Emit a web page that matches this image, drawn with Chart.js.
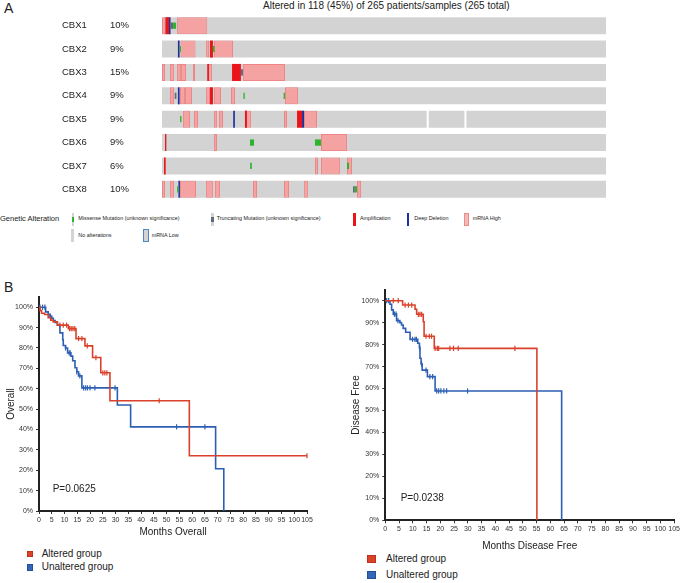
<!DOCTYPE html>
<html>
<head>
<meta charset="utf-8">
<script src="https://cdn.jsdelivr.net/npm/chart.js"></script>
<style>
  body { margin: 0; width: 682px; height: 583px; position: relative; overflow: hidden; background: #fff;
         font-family: "Liberation Sans", Arial, sans-serif; color: #222; }
  .t { position: absolute; white-space: nowrap; line-height: 1; transform: translateY(-50%); }
  .box { position: absolute; }
  .sw { position: absolute; box-sizing: border-box; }
</style>
</head>
<body>

<div class="t" style="left:4px;top:8px;font-size:14px">A</div>
<div class="t" style="left:263px;top:6px;font-size:10px">Altered in 118 (45%) of 265 patients/samples (265 total)</div>

<div class="box" style="left:62px;top:14px;width:546px;height:187px"><canvas id="onco"></canvas></div>

<!-- oncoprint legend -->
<div class="t" style="left:0px;top:219px;font-size:7.5px">Genetic Alteration</div>
<div class="sw" style="left:71.5px;top:212.5px;width:2.6px;height:13px;background:#d3d3d3"></div>
<div class="sw" style="left:71.5px;top:216.5px;width:2.6px;height:5px;background:#2cb52c"></div>
<div class="t" style="left:78.3px;top:219px;font-size:5.4px">Missense Mutation (unknown significance)</div>
<div class="sw" style="left:211px;top:212.5px;width:2.6px;height:13px;background:#d3d3d3"></div>
<div class="sw" style="left:211px;top:216.5px;width:2.6px;height:5px;background:#5a6b7d"></div>
<div class="t" style="left:216.7px;top:219px;font-size:5.4px">Truncating Mutation (unknown significance)</div>
<div class="sw" style="left:353.3px;top:212.5px;width:2.8px;height:13px;background:#e8161b"></div>
<div class="t" style="left:360px;top:219px;font-size:5.4px">Amplification</div>
<div class="sw" style="left:406.7px;top:212.5px;width:2.8px;height:13px;background:#1f2f9c"></div>
<div class="t" style="left:414.3px;top:219px;font-size:5.4px">Deep Deletion</div>
<div class="sw" style="left:464.3px;top:212.5px;width:4.4px;height:13px;background:#f3b9b9;border:1px solid #ee8a8a"></div>
<div class="t" style="left:472.7px;top:219px;font-size:5.4px">mRNA High</div>
<div class="sw" style="left:71px;top:228.5px;width:2.7px;height:13px;background:#d3d3d3"></div>
<div class="t" style="left:78.3px;top:235.5px;font-size:5.4px">No alterations</div>
<div class="sw" style="left:143.3px;top:228.5px;width:5.4px;height:13px;background:#d3d3d3;border:1px solid #4f86c6"></div>
<div class="t" style="left:151.7px;top:235.5px;font-size:5.4px">mRNA Low</div>

<div class="t" style="left:4px;top:287px;font-size:14px">B</div>

<div class="box" style="left:0px;top:285px;width:322px;height:254px"><canvas id="os"></canvas></div>
<div class="box" style="left:340px;top:278px;width:342px;height:275px"><canvas id="dfs"></canvas></div>

<div class="t" style="left:52.7px;top:489px;font-size:10px">P=0.0625</div>
<div class="t" style="left:400.7px;top:498px;font-size:10px">P=0.0238</div>

<div class="sw" style="left:26.7px;top:550.7px;width:6.6px;height:6.6px;background:#da4327;border:1px solid #b8321c"></div>
<div class="t" style="left:41.7px;top:554px;font-size:10px">Altered group</div>
<div class="sw" style="left:26.7px;top:564px;width:6.6px;height:6.6px;background:#3466b8;border:1px solid #234e98"></div>
<div class="t" style="left:41.7px;top:567.3px;font-size:10px">Unaltered group</div>

<div class="sw" style="left:367.3px;top:554.7px;width:8.7px;height:8.7px;background:#da4327;border:1px solid #b8321c"></div>
<div class="t" style="left:386px;top:559px;font-size:10px">Altered group</div>
<div class="sw" style="left:367.3px;top:570.7px;width:8.7px;height:8.7px;background:#3466b8;border:1px solid #234e98"></div>
<div class="t" style="left:386px;top:575px;font-size:10px">Unaltered group</div>

<script>
// ---- oncoprint data (sample index ranges, 265 samples) ----
const genes = ['CBX1', 'CBX2', 'CBX3', 'CBX4', 'CBX5', 'CBX6', 'CBX7', 'CBX8'];
const alteredPct = ['10%', '9%', '15%', '9%', '9%', '9%', '6%', '10%'];
const totalSamples = 265;
const notProfiled = [['CBX5', 158, 159.2], ['CBX5', 180.5, 181.7]];

const mrnaHigh = [
  ['CBX1', 0, 2], ['CBX1', 9, 27],
  ['CBX2', 11, 20], ['CBX2', 26.3, 28.1], ['CBX2', 31, 42.4],
  ['CBX3', 0, 1.8], ['CBX3', 4.8, 7.2], ['CBX3', 9, 11.3], ['CBX3', 11.3, 14.3], ['CBX3', 18.5, 19.7],
  ['CBX3', 27.5, 29.8], ['CBX3', 48.3, 73.4],
  ['CBX4', 4.8, 7.2], ['CBX4', 10.7, 13.7], ['CBX4', 13.7, 17.9], ['CBX4', 26.3, 28.6], ['CBX4', 31, 35.2],
  ['CBX4', 41.2, 43.6], ['CBX4', 73.4, 81.2],
  ['CBX5', 12.5, 16.7], ['CBX5', 19.1, 21.5], ['CBX5', 31, 32.8], ['CBX5', 34, 36.4], ['CBX5', 49.5, 53.1],
  ['CBX5', 72.8, 74.6], ['CBX5', 84.8, 92.5],
  ['CBX6', 31, 32.8], ['CBX6', 94.9, 110.4],
  ['CBX7', 91.3, 93.1], ['CBX7', 94.9, 106.2], ['CBX7', 110.4, 113.4],
  ['CBX8', 0, 1.8], ['CBX8', 4.8, 7.2], ['CBX8', 10.7, 20.3], ['CBX8', 26.3, 30.4], ['CBX8', 31.6, 34.6],
  ['CBX8', 54.3, 56.7], ['CBX8', 72.8, 75.8], ['CBX8', 84.8, 87.1], ['CBX8', 116.4, 118.8]
];
const amplification = [
  ['CBX1', 2, 4.2], ['CBX2', 28.6, 30.4], ['CBX3', 27, 28], ['CBX3', 41.8, 47.1], ['CBX4', 28.6, 30.4],
  ['CBX5', 49.5, 50.7], ['CBX5', 80.6, 83.6], ['CBX6', 1.8, 2.6], ['CBX7', 1.2, 2.2]
];
const deepDeletion = [
  ['CBX1', 4.2, 5.1], ['CBX2', 9.5, 10.5], ['CBX4', 9.5, 10.5], ['CBX5', 42.5, 43.5],
  ['CBX5', 83.6, 84.8], ['CBX8', 9.8, 10.7]
];
const missense = [
  ['CBX1', 6.6, 8.4], ['CBX2', 10.5, 11.3], ['CBX2', 30.4, 31.4], ['CBX4', 48.6, 49.4], ['CBX4', 72.6, 73.4],
  ['CBX5', 10.8, 11.6], ['CBX6', 52.5, 54.9], ['CBX6', 91.3, 94.9], ['CBX7', 52.6, 53.6],
  ['CBX7', 110.4, 111.6], ['CBX8', 9, 9.8], ['CBX8', 115, 116.4]
];
const truncating = [
  ['CBX1', 5.1, 6.6], ['CBX3', 47.1, 48.3], ['CBX4', 7.6, 8.6], ['CBX8', 114, 115]
];

// ---- survival data (months, % surviving) ----
const osAlteredMonths = [0, 0.4, 1, 2.2, 3.6, 4.6, 5.6, 7.2, 11.5, 14.5, 18, 21, 24.2, 27.8, 58.9, 105];
const osAlteredSurv   = [100, 98.3, 97, 96.4, 94.8, 93.6, 92.8, 91.2, 89.5, 84.6, 81, 75.3, 67.8, 54.1, 27.1, 27.1];
const osAlteredCensored = [8.2, 9.5, 10.8, 12, 12.6, 13.3, 14, 15.5, 16.8, 18.9, 22.3, 25, 25.8, 26.6, 47.1, 105];
const osUnalteredMonths = [0, 2.6, 3.6, 4.3, 5, 5.6, 6.3, 7.2, 8.2, 9.3, 9.5, 10.4, 11.2, 12.5, 13.2, 14.1,
                           14.8, 15.5, 16.8, 30.7, 35.9, 69.2, 72.4];
const osUnalteredSurv   = [100, 97.7, 96.5, 95.5, 94.5, 93.5, 92.5, 91.2, 87.4, 84, 81.2, 80, 77.6, 76, 73.7, 70.3,
                           68.3, 66.3, 60.4, 52, 41.3, 20.7, 0];
const osUnalteredCensored = [0.4, 1.4, 2.3, 4.5, 10.4, 11.8, 12.2, 14.8, 16, 17.5, 18.3, 19, 20, 21.9, 29.8, 53.9, 65];

const dfsAlteredMonths = [0, 6.3, 10.8, 11.4, 13.8, 14.1, 17.8, 55.1];
const dfsAlteredSurv   = [100, 98, 96.1, 93.8, 90.4, 83.8, 78.3, 0];
const dfsAlteredCensored = [2.9, 4.7, 7.2, 8.4, 9.6, 12, 12.6, 13.2, 14.8, 16, 16.8, 18.1, 18.9, 19.4,
                            23.5, 24.8, 26.5, 47.1];
const dfsUnalteredMonths = [0, 1.7, 2.3, 2.9, 4.1, 5.3, 5.9, 6.5, 7.4, 9, 11.8, 12.4, 12.6, 13, 13.4, 15.3, 18.1, 64.1];
const dfsUnalteredSurv   = [100, 98.4, 95.8, 93.9, 90.9, 90, 88.9, 87.4, 85.6, 82.4, 80.6, 78.6, 73.8, 71.2,
                            68.4, 65.4, 58.9, 0];
const dfsUnalteredCensored = [0.5, 1.2, 3.3, 3.9, 4.6, 9.9, 10.8, 11.3, 12.5, 13.2, 14.8, 16.2, 17.2, 18.7,
                              19.4, 20.2, 21.3, 22.3, 29.9];

const FONT = '"Liberation Sans", Arial, sans-serif';
Chart.defaults.font.family = FONT;
Chart.defaults.color = '#222';
const RED = '#d9412b';
const BLUE = '#2c5fb3';

// ---------- oncoprint ----------
function toBars(list) {
  return list.map(([g, s, e]) => ({ y: g, x: [s, e] }));
}

// gray "no alteration" strips, split where samples were not profiled
const background = [];
genes.forEach(g => {
  let start = 0;
  notProfiled.filter(p => p[0] === g).forEach(p => {
    background.push([g, start, p[1]]);
    start = p[2];
  });
  background.push([g, start, totalSamples]);
});

const full = { grouped: false, categoryPercentage: 1, barPercentage: 0.73, yAxisID: 'y', borderSkipped: false };
const small = { grouped: false, categoryPercentage: 1, barPercentage: 0.27, yAxisID: 'y', borderSkipped: false };

new Chart(document.getElementById('onco'), {
  type: 'bar',
  data: {
    datasets: [
      { ...full, label: 'No alterations', data: toBars(background), backgroundColor: '#d3d3d3', order: 6 },
      { ...full, label: 'mRNA High', data: toBars(mrnaHigh), backgroundColor: '#f4a2a2',
        borderColor: '#ef8585', borderWidth: 1, order: 5 },
      { ...full, label: 'Amplification', data: toBars(amplification), backgroundColor: '#e8161b', order: 4 },
      { ...full, label: 'Deep Deletion', data: toBars(deepDeletion), backgroundColor: '#1f2f9c', order: 3 },
      { ...small, label: 'Missense', data: toBars(missense), backgroundColor: '#2cb52c', order: 2 },
      { ...small, label: 'Truncating', data: toBars(truncating), backgroundColor: '#5a6b7d', order: 1 }
    ]
  },
  options: {
    indexAxis: 'y',
    responsive: true,
    maintainAspectRatio: false,
    animation: false,
    layout: { padding: { left: 0, right: 2, top: 0, bottom: 0 } },
    plugins: { legend: { display: false }, tooltip: { enabled: false } },
    scales: {
      x: { display: false, min: 0, max: totalSamples },
      y: {
        type: 'category', labels: genes, offset: true, position: 'left', weight: 1,
        grid: { display: false }, border: { display: false },
        ticks: { crossAlign: 'far', padding: 0, font: { size: 9.5 }, color: '#222' },
        afterFit: s => { s.width = 48; s.paddingTop = 0; s.paddingBottom = 0; }
      },
      yPct: {
        type: 'category', labels: alteredPct, offset: true, position: 'left', weight: 0,
        grid: { display: false }, border: { display: false },
        ticks: { crossAlign: 'far', padding: 0, font: { size: 9.5 }, color: '#222' },
        afterFit: s => { s.width = 52; s.paddingTop = 0; s.paddingBottom = 0; }
      }
    }
  }
});

// ---------- Kaplan-Meier curves ----------
function survAt(months, surv, t) {
  let v = surv[0];
  for (let i = 0; i < months.length; i++) if (months[i] <= t) v = surv[i];
  return v;
}

function curve(months, surv, color) {
  return {
    data: months.map((m, i) => ({ x: m, y: surv[i] })),
    showLine: true, stepped: true, borderColor: color, borderWidth: 1.6,
    pointRadius: 0, fill: false, clip: 2
  };
}

function censor(times, months, surv, color) {
  return {
    data: times.map(t => ({ x: t, y: survAt(months, surv, t) })),
    showLine: false, pointStyle: 'line', rotation: 90, pointRadius: 2.6,
    borderColor: color, borderWidth: 1.2, clip: false
  };
}

function makeKm(id, c) {
  const tickFont = { size: 7 };
  return new Chart(document.getElementById(id), {
    type: 'scatter',
    data: {
      datasets: [
        curve(c.altMonths, c.altSurv, RED),
        curve(c.unMonths, c.unSurv, BLUE),
        censor(c.altCens, c.altMonths, c.altSurv, RED),
        censor(c.unCens, c.unMonths, c.unSurv, BLUE)
      ]
    },
    options: {
      responsive: true,
      maintainAspectRatio: false,
      animation: false,
      layout: { padding: c.padding },
      plugins: { legend: { display: false }, tooltip: { enabled: false } },
      scales: {
        x: {
          type: 'linear', min: 0, max: 105,
          ticks: { stepSize: 5, autoSkip: false, maxRotation: 0, padding: 2, font: tickFont, color: '#333' },
          grid: { drawOnChartArea: false, tickLength: 3, color: '#333' },
          border: { color: '#222', width: 2 },
          title: { display: true, text: c.xTitle, font: { size: 10 }, color: '#222', padding: { top: 0, bottom: 1 } },
          afterFit: s => { s.height = c.xAxisH; }
        },
        y: {
          type: 'linear', min: 0, max: 105,
          afterBuildTicks: s => { s.ticks = s.ticks.filter(t => t.value <= 100); },
          ticks: { stepSize: 10, padding: 3, font: tickFont, color: '#333', callback: v => v + '%' },
          grid: { drawOnChartArea: false, tickLength: 3, color: '#333' },
          border: { color: '#222', width: 2 },
          title: { display: true, text: c.yTitle, font: { size: 10 }, color: '#222', padding: { top: c.yTitlePad, bottom: 0 } },
          afterFit: s => { s.width = c.yAxisW; s.paddingTop = 0; s.paddingBottom = 0; }
        }
      }
    }
  });
}

makeKm('os', {
  altMonths: osAlteredMonths, altSurv: osAlteredSurv, altCens: osAlteredCensored,
  unMonths: osUnalteredMonths, unSurv: osUnalteredSurv, unCens: osUnalteredCensored,
  xTitle: 'Months Overall', yTitle: 'Overall',
  padding: { left: 0, top: 12, right: 15, bottom: 0 }, yAxisW: 39, xAxisH: 28, yTitlePad: 5.5
});

makeKm('dfs', {
  altMonths: dfsAlteredMonths, altSurv: dfsAlteredSurv, altCens: dfsAlteredCensored,
  unMonths: dfsUnalteredMonths, unSurv: dfsUnalteredSurv, unCens: dfsUnalteredCensored,
  xTitle: 'Months Disease Free', yTitle: 'Disease Free',
  padding: { left: 0, top: 11.7, right: 7.7, bottom: 0 }, yAxisW: 45.3, xAxisH: 32.7, yTitlePad: 10
});
</script>
</body>
</html>
